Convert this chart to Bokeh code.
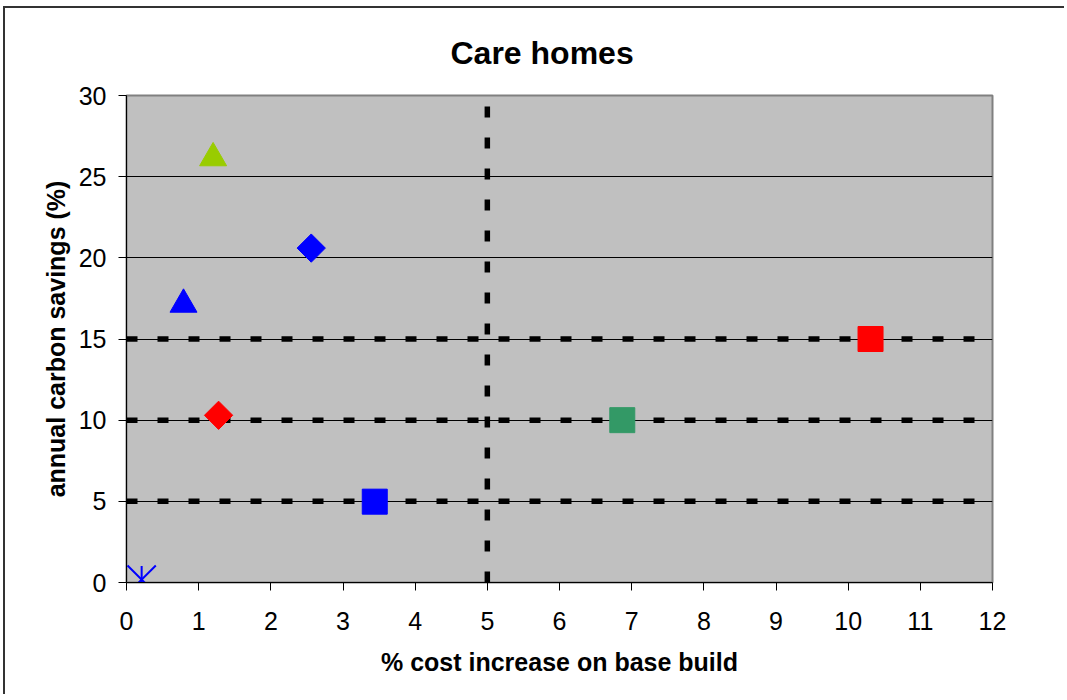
from bokeh.plotting import figure
from bokeh.models import Range1d, FixedTicker
from bokeh.embed import file_html
from bokeh.resources import INLINE
import math

# ---- data ----
tri_x = [1.20, 0.79]
tri_y = [26.15, 17.13]
tri_colors = ["#99CC00", "#0000FF"]

dia_x = [2.56, 1.276]
dia_y = [20.6, 10.3]
dia_colors = ["#0000FF", "#FF0000"]

sq_x = [3.44, 6.87, 10.31]
sq_y = [4.98, 10.0, 15.0]
sq_colors = ["#0000FF", "#339966", "#FF0000"]

star_x = [0.21]
star_y = [0.18]

threshold_y = [5, 10, 15]
threshold_x = [5]

x_min, x_max = 0, 12
y_min, y_max = 0, 30
x_ticks = list(range(0, 13))
y_ticks = [0, 5, 10, 15, 20, 25, 30]

FONT = "Liberation Sans"

p = figure(width=1061, height=688, output_backend="svg", toolbar_location=None,
           x_range=Range1d(x_min, x_max), y_range=Range1d(y_min, y_max),
           min_border_left=121, min_border_right=74, min_border_top=87,
           min_border_bottom=114, background_fill_color="#C0C0C0",
           border_fill_color="white", outline_line_color="#808080",
           outline_line_width=2, title="Care homes")
p.styles = {"margin-left": "3px", "margin-top": "6px",
            "border-top": "2px solid #333333", "border-left": "2px solid #333333"}

p.title.align = "left"
p.title.text_font = FONT
p.title.text_font_size = "32px"
p.title.text_font_style = "bold"
p.title.text_color = "black"
p.title.offset = 324
p.title.standoff = 49

p.xgrid.grid_line_color = None
p.ygrid.grid_line_color = "black"
p.ygrid.grid_line_width = 1
p.ygrid.ticker = FixedTicker(ticks=y_ticks)

p.xaxis.ticker = FixedTicker(ticks=x_ticks)
p.yaxis.ticker = FixedTicker(ticks=y_ticks)
for ax in (p.xaxis[0], p.yaxis[0]):
    ax.axis_line_color = "black"
    ax.axis_line_width = 1
    ax.major_tick_line_color = "black"
    ax.major_tick_in = 0
    ax.major_tick_out = 8
    ax.minor_tick_line_color = None
    ax.major_label_text_font = FONT
    ax.major_label_text_font_size = "25px"
    ax.major_label_text_color = "black"
    ax.axis_label_text_font = FONT
    ax.axis_label_text_font_size = "25px"
    ax.axis_label_text_font_style = "bold"
    ax.axis_label_text_color = "black"

p.xaxis.axis_label = "% cost increase on base build"
p.yaxis.axis_label = "annual carbon savings (%)"
p.xaxis.major_label_standoff = 21
p.yaxis.major_label_standoff = 12
p.xaxis.axis_label_standoff = 15
p.yaxis.axis_label_standoff = 6

# dashed reference lines
p.segment(x0=[x_min] * len(threshold_y), y0=threshold_y,
          x1=[x_max] * len(threshold_y), y1=threshold_y,
          line_color="black", line_width=5.5, line_dash="11 20")
p.segment(x0=threshold_x, y0=[y_min] * len(threshold_x),
          x1=threshold_x, y1=[y_max] * len(threshold_x),
          line_color="black", line_width=5.5, line_dash="11 20")

# markers
p.scatter(tri_x, tri_y, marker="triangle", size=27, fill_color=tri_colors,
          line_color=tri_colors)
p.scatter(dia_x, dia_y, marker="square", angle=math.pi / 4, size=20,
          fill_color=dia_colors, line_color=dia_colors)
p.scatter(sq_x, sq_y, marker="square", size=25, fill_color=sq_colors,
          line_color=sq_colors)
p.scatter(star_x, star_y, marker="x", size=40, line_color="#0000FF", line_width=2)
p.scatter(star_x, star_y, marker="dash", angle=math.pi / 2, size=27,
          line_color="#0000FF", line_width=2)

open("out.html", "w").write(file_html(p, INLINE))
